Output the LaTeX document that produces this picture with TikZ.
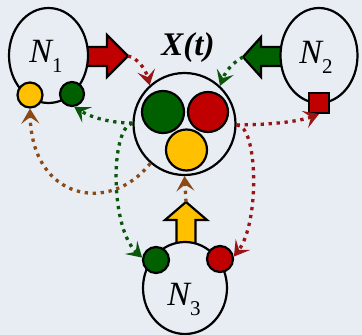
\documentclass[tikz,border=0pt]{standalone}
\usepackage{fontspec}
\setmainfont{Liberation Serif}
\usetikzlibrary{arrows.meta,shapes.geometric}
\definecolor{bg}{HTML}{E8EDF4}
\definecolor{fred}{HTML}{C00000}
\definecolor{fgreen}{HTML}{006000}
\definecolor{fyellow}{HTML}{FFC000}
\definecolor{dred}{HTML}{9A1414}
\definecolor{dgreen}{HTML}{0A560A}
\definecolor{dbrown}{HTML}{8B4A14}
\begin{document}
\begin{tikzpicture}[x=1pt,y=-1pt,
  outl/.style={draw=black,line width=2.2pt},
  bignode/.style={ellipse,outl,fill=bg,inner sep=0pt},
  ball/.style={circle,outl,inner sep=0pt},
  blockarrow/.style={outl,line join=miter},
  lbl/.style={anchor=base,inner sep=0pt,font=\fontsize{34}{40}\selectfont\itshape},
  dotline/.style={line width=3.3pt,dash pattern=on 3.3pt off 4.7pt,
     -{Stealth[length=15pt,width=18pt,inset=6.5pt]}},
  reddot/.style={dotline,dred},
  greendot/.style={dotline,dgreen},
  browndot/.style={dotline,dbrown}
]
\fill[bg] (0,0) rectangle (362,335);
\useasboundingbox (0,0) rectangle (362,335);

% block arrows
\draw[blockarrow,fill=fred] (84,47) -- (107,47) -- (107,35) -- (128,56) -- (107,77) -- (107,66) -- (84,66) -- cycle;
\coordinate (rtip) at (128,56);
\draw[blockarrow,fill=fgreen] (285,47) -- (261,47) -- (261,37) -- (243,57) -- (261,77) -- (261,66) -- (285,66) -- cycle;
\coordinate (gtip) at (243,57);
\draw[blockarrow,fill=fyellow] (176.5,246) -- (176.5,220) -- (165,220) -- (186,202) -- (207,220) -- (195.5,220) -- (195.5,246) -- cycle;
\coordinate (ytip) at (186,202);

% agents
\node[bignode,minimum width=79pt,minimum height=95pt] (N1) at (48.5,55.5) {};
\node[bignode,minimum width=77pt,minimum height=95pt] (N2) at (319,55.5) {};
\node[bignode,minimum width=84pt,minimum height=92pt] (N3) at (185,288) {};

\node[lbl] (L1) at (46,62) {N\raisebox{-10pt}{\fontsize{21}{21}\selectfont\upshape 1}};
\node[lbl] (L2) at (316,63) {N\raisebox{-10pt}{\fontsize{21}{21}\selectfont\upshape 2}};
\node[lbl] (L3) at (184,305) {N\raisebox{-10pt}{\fontsize{21}{21}\selectfont\upshape 3}};

\node[ball,fill=fyellow,minimum size=25pt] (n1y) at (30,95) {};
\node[ball,fill=fgreen,minimum size=24pt] (n1g) at (72,94) {};
\node[rectangle,outl,fill=fred,minimum size=20pt,inner sep=0pt] (sq) at (319,103) {};
\node[ball,fill=fgreen,minimum size=26pt] (n3g) at (156,260) {};
\node[ball,fill=fred,minimum size=26pt] (n3r) at (220,259) {};

% environment
\node[ball,minimum size=102pt] (X) at (184.5,124) {};
\node[ball,fill=fgreen,minimum size=42pt] (xg) at (163,112) {};
\node[ball,fill=fred,minimum size=40pt] (xr) at (208,112) {};
\node[ball,fill=fyellow,minimum size=41pt] (xy) at (186.5,150) {};
\node[anchor=base,inner sep=0pt,font=\fontsize{33}{40}\selectfont\bfseries\itshape] (XL) at (188,55) {X(t)};

% dotted connectors
\draw[reddot] (rtip) .. controls (138,58) and (146,70) .. (X.132);
\draw[greendot] (gtip) .. controls (234,62) and (226,70) .. (X.47);
\draw[reddot] (X.-1) .. controls (265,125) and (298,122) .. (sq.south);
\draw[reddot] (X.-1) .. controls (258,125) and (260,222) .. (n3r.10);
\draw[greendot] (X.179) .. controls (112,123) and (92,118) .. (n1g.-80);
\draw[greendot] (X.179) .. controls (110,128) and (110,228) .. (n3g.170);
\draw[browndot] (X.229) .. controls (110,215) and (32,200) .. (n1y.-90);
\draw[browndot] (ytip) -- (X.south);
\end{tikzpicture}
\end{document}
